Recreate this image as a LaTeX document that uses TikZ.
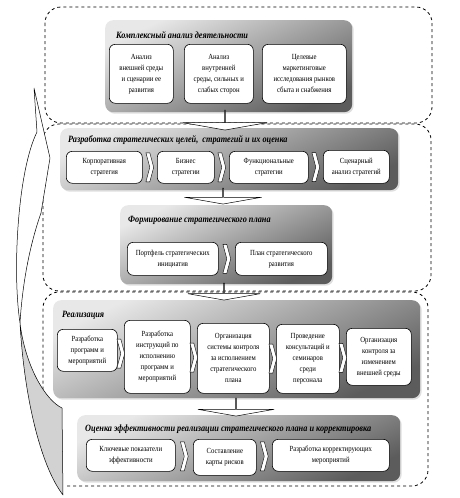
\documentclass[tikz,border=0pt]{standalone}
\usepackage{fontspec}
\setmainfont{Liberation Serif}[FakeStretch=0.86]
\usetikzlibrary{calc,shapes.arrows,shapes.symbols,shadows}

\begin{document}
\begin{tikzpicture}[x=1pt, y=-1pt, line join=round,
 frame/.style={dashed, line width=0.8pt, rounded corners=16pt},
 panel/.style={anchor=north west, rounded corners=8pt, top color=gray!18, bottom color=gray!72!black, shading angle=25, drop shadow={opacity=0.25, shadow xshift=1.5pt, shadow yshift=-1.5pt}, inner sep=0pt},
 box/.style={anchor=north west, draw, fill=white, rounded corners=6pt, line width=0.6pt, align=center, font=\fontsize{7.8}{11}\selectfont, inner sep=1pt},
 ttl/.style={anchor=west, font=\fontsize{9.6}{12}\selectfont\bfseries\itshape, inner sep=0pt},
 chev/.style={signal, signal to=east, signal from=west, signal pointer angle=150, draw, fill=white, line width=0.4pt, minimum width=6pt, minimum height=29pt, inner sep=0pt},
 flow/.style={single arrow, draw, fill=white, line width=0.5pt, shape border rotate=270, single arrow tip angle=160, inner sep=0pt}]
 \useasboundingbox (0,0) rectangle (459,498);
 % dashed stages
 \draw[frame] (45,7) rectangle (432,123);
 \draw[frame] (43,124) rectangle (431,291);
 \draw[frame] (67,486) -- (428,486) -- (428,292) -- (43,292) -- (43,430);
 % return arrow on the left
 \draw[fill=gray!35, line width=0.5pt] (20,323) .. controls (24,395) and (40,465) .. (63,495) -- (62,408) .. controls (45,400) and (25,365) .. (20,323) -- cycle;
 \draw[fill=white, line width=0.5pt] (20,323) .. controls (12,270) and (18,170) .. (37,132) -- (34,88) -- (50,158) -- (41,213) .. controls (28,250) and (22,290) .. (20,323) -- cycle;
 % panels
 \node[panel, minimum width=247pt, minimum height=92pt] (p1) at (105,20) {};
 \node[panel, minimum width=338pt, minimum height=62pt] (p2) at (60,128) {};
 \node[panel, minimum width=212pt, minimum height=79pt] (p3) at (120,205) {};
 \node[panel, minimum width=367pt, minimum height=98pt] (p4) at (53,300) {};
 \node[panel, minimum width=323pt, minimum height=66pt] (p5) at (77,415) {};
 \node[ttl] (t1) at ($(p1.north west)+(11,15)$) {Комплексный анализ деятельности};
 \node[ttl] (t2) at ($(p2.north west)+(8,12)$) {Разработка стратегических целей,\ \ стратегий и их оценка};
 \node[ttl] (t3) at ($(p3.north west)+(8,15)$) {Формирование стратегического плана};
 \node[ttl] (t4) at ($(p4.north west)+(9,15)$) {Реализация};
 \node[ttl] (t5) at ($(p5.north west)+(8,14)$) {Оценка эффективности реализации стратегического плана и корректировка};
 % boxes
 \node[box, minimum width=64pt, minimum height=59pt] (b1) at (109,44) {Анализ\\внешней среды\\и сценарии ее\\развития};
 \node[box, minimum width=69pt, minimum height=59pt] (b2) at (184,44) {Анализ\\внутренней\\среды, сильных и\\слабых сторон};
 \node[box, minimum width=84pt, minimum height=59pt] (b3) at (262,44) {Целевые\\маркетинговые\\исследования рынков\\сбыта и снабжения};
 \node[box, minimum width=76pt, minimum height=32pt] (c1) at (66,151) {Корпоративная\\стратегия};
 \node[box, minimum width=57pt, minimum height=32pt] (c2) at (157,151) {Бизнес\\стратегии};
 \node[box, minimum width=79pt, minimum height=32pt] (c3) at (229,151) {Функциональные\\стратегии};
 \node[box, minimum width=66pt, minimum height=33pt] (c4) at (323,150) {Сценарный\\анализ стратегий};
 \node[box, minimum width=91pt, minimum height=33pt] (d1) at (127,242) {Портфель стратегических\\инициатив};
 \node[box, minimum width=92pt, minimum height=33pt] (d2) at (235,242) {План стратегического\\развития};
 \node[box, minimum width=60pt, minimum height=42pt] (e1) at (57,329) {Разработка\\программ и\\мероприятий};
 \node[box, minimum width=66pt, minimum height=73pt] (e2) at (124,320) {Разработка\\инструкций по\\исполнению\\программ и\\мероприятий};
 \node[box, minimum width=72pt, minimum height=70pt] (e3) at (197,323) {Организация\\системы контроля\\за исполнением\\стратегического\\плана};
 \node[box, minimum width=63pt, minimum height=69pt] (e4) at (276,324) {Проведение\\консультаций и\\семинаров\\среди\\персонала};
 \node[box, minimum width=65pt, minimum height=57pt] (e5) at (346,328) {Организация\\контроля за\\изменением\\внешней среды};
 \node[box, minimum width=89pt, minimum height=32pt] (f1) at (86,439) {Ключевые показатели\\эффективности};
 \node[box, minimum width=63pt, minimum height=36pt] (f2) at (193,439) {Составление\\карты рисков};
 \node[box, minimum width=117pt, minimum height=32pt] (f3) at (272,439) {Разработка корректирующих\\мероприятий};
 % chevrons between boxes
 \foreach \a/\b in {c1/c2,c2/c3,c3/c4,d1/d2,e1/e2,e2/e3,e3/e4,e4/e5,f1/f2,f2/f3}
  \node[chev] (s\a) at ($(\a.east)!.5!(\b.west)$) {};
 % arrows between stages
 \node[flow, minimum height=20pt, minimum width=84pt, single arrow head extend=24pt] (a12) at (225,120) {};
 \node[flow, minimum height=16pt, minimum width=77pt, single arrow head extend=19pt] (a23) at (223,196) {};
 \node[flow, minimum height=17pt, minimum width=72pt, single arrow head extend=17pt] (a34) at (224,291.5) {};
 \node[flow, minimum height=18pt, minimum width=76pt, single arrow head extend=19pt] (a45) at (236,407) {};
\end{tikzpicture}
\end{document}
